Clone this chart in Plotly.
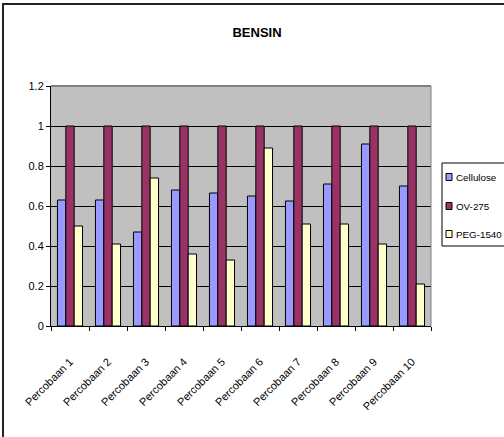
import plotly.graph_objects as go

categories = [f"Percobaan {i}" for i in range(1, 11)]
cellulose = [0.63, 0.63, 0.47, 0.68, 0.665, 0.65, 0.625, 0.71, 0.91, 0.70]
ov275 = [1, 1, 1, 1, 1, 1, 1, 1, 1, 1]
peg1540 = [0.50, 0.41, 0.74, 0.36, 0.33, 0.89, 0.51, 0.51, 0.41, 0.21]
y_ticks = [0, 0.2, 0.4, 0.6, 0.8, 1, 1.2]
y_tick_text = ["0", "0.2", "0.4", "0.6", "0.8", "1", "1.2"]
series_names = ["Cellulose", "OV-275", "PEG-1540"]
series_colors = ["#9999FF", "#993366", "#FFFFCC"]

font = "Liberation Sans, Arial, sans-serif"

W, H = 504, 437
# plot area in screen pixels
L, R, T, B = 51, 431, 86, 326
PW, PH = R - L, B - T


def px(x):
    return (x - L) / PW


def py(y):
    return (B - y) / PH


fig = go.Figure()
for name, vals, col in zip(series_names, [cellulose, ov275, peg1540], series_colors):
    fig.add_trace(go.Bar(x=categories, y=vals, name=name, showlegend=False,
                         marker=dict(color=col, line=dict(color="black", width=1))))

shapes = [
    dict(type="line", xref="paper", yref="paper", x0=0, x1=1, y0=1, y1=1,
         line=dict(color="#808080", width=2)),
    dict(type="line", xref="paper", yref="paper", x0=1, x1=1, y0=0, y1=1,
         line=dict(color="#808080", width=1)),
    dict(type="rect", xref="paper", yref="paper",
         x0=px(3), x1=px(520), y0=py(450), y1=py(4),
         line=dict(color="#222222", width=2), layer="above"),
    # legend box
    dict(type="rect", xref="paper", yref="paper",
         x0=px(442), x1=px(515), y0=py(246), y1=py(163),
         line=dict(color="black", width=1), fillcolor="white", layer="above"),
]
annotations = []
item_y = [177, 206, 234]
for name, col, yy in zip(series_names, series_colors, item_y):
    shapes.append(dict(type="rect", xref="paper", yref="paper",
                       x0=px(446), x1=px(452), y0=py(yy + 3.5), y1=py(yy - 3.5),
                       line=dict(color="black", width=1), fillcolor=col, layer="above"))
    annotations.append(dict(text=name, xref="paper", yref="paper",
                            x=px(454), y=py(yy), xanchor="left", yanchor="middle",
                            showarrow=False,
                            font=dict(family=font, size=9.8, color="black")))

fig.update_layout(
    width=W, height=H,
    margin=dict(l=L, r=W - R, t=T, b=H - B, autoexpand=False),
    paper_bgcolor="white",
    plot_bgcolor="#C0C0C0",
    barmode="group",
    bargap=0.34,
    bargroupgap=0,
    font=dict(family=font, size=11, color="black"),
    title=dict(text="<b>BENSIN</b>", x=257 / W, xref="container",
               y=1 - 32 / H, yref="container", xanchor="center", yanchor="middle",
               font=dict(family=font, size=13, color="black")),
    showlegend=False,
    xaxis=dict(type="category", tickangle=-45, tickson="boundaries",
               ticks="outside", ticklen=4, tickcolor="black",
               showline=True, linecolor="black", linewidth=1,
               showgrid=False, ticklabelstandoff=24,
               tickfont=dict(family=font, size=11)),
    yaxis=dict(range=[0, 1.2], tickvals=y_ticks, ticktext=y_tick_text,
               ticks="outside", ticklen=4, tickcolor="black",
               showline=True, linecolor="black", linewidth=1,
               showgrid=True, gridcolor="black", gridwidth=1,
               zeroline=False, tickfont=dict(family=font, size=11)),
    shapes=shapes,
    annotations=annotations,
)

fig.write_html(
    "out.html",
    config={"displayModeBar": False},
    post_script="document.body.style.margin='0';document.body.style.overflow='hidden';",
)
